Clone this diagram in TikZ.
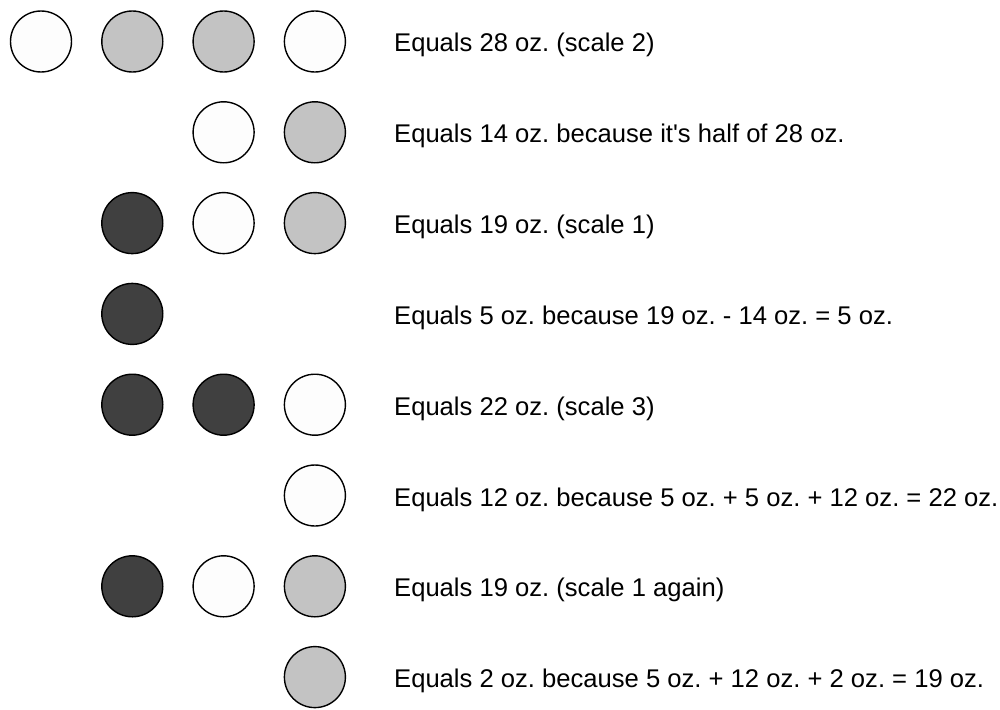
\documentclass[tikz,border=0pt]{standalone}
\usepackage{fontspec}
\setmainfont{Liberation Sans}
\usepackage{xcolor}
\usepackage{tikz}
\usetikzlibrary{positioning}
\frenchspacing

\definecolor{ballW}{HTML}{FDFDFD}
\definecolor{ballG}{HTML}{C3C3C3}
\definecolor{ballD}{HTML}{404040}

\begin{document}
\begin{tikzpicture}[
    x=1pt, y=1pt,
    ball/.style={circle, draw, line width=1.4pt, minimum size=61pt, inner sep=0pt},
    ballw/.style={ball, fill=ballW},
    ballg/.style={ball, fill=ballG},
    balld/.style={ball, fill=ballD},
    note/.style={anchor=base west, inner sep=0pt, font=\fontsize{25.6}{30}\selectfont}
]
\useasboundingbox (0,0) rectangle (1000,-709);

% Row 1: scale 2
\node[ballw] (a1) at (41,-41.5) {};
\node[ballg] (a2) at (132.3,-41.5) {};
\node[ballg] (a3) at (223.6,-41.5) {};
\node[ballw] (a4) at (314.9,-41.5) {};
\node[note] (ta) at (394,-52) {Equals 28 oz. (scale 2)};

% Row 2
\node[ballw] (b3) at (223.6,-132.3) {};
\node[ballg] (b4) at (314.9,-132.3) {};
\node[note] (tb) at (394,-142.8) {Equals 14 oz. because it\textquotesingle s half of 28 oz.};

% Row 3: scale 1
\node[balld] (c2) at (132.3,-223.1) {};
\node[ballw] (c3) at (223.6,-223.1) {};
\node[ballg] (c4) at (314.9,-223.1) {};
\node[note] (tc) at (394,-233.6) {Equals 19 oz. (scale 1)};

% Row 4
\node[balld] (d2) at (132.3,-313.9) {};
\node[note] (td) at (394,-324.4) {Equals 5 oz. because 19 oz. - 14 oz. = 5 oz.};

% Row 5: scale 3
\node[balld] (e2) at (132.3,-404.7) {};
\node[balld] (e3) at (223.6,-404.7) {};
\node[ballw] (e4) at (314.9,-404.7) {};
\node[note] (te) at (394,-415.2) {Equals 22 oz. (scale 3)};

% Row 6
\node[ballw] (f4) at (314.9,-495.5) {};
\node[note] (tf) at (394,-506) {Equals 12 oz. because 5 oz. + 5 oz. + 12 oz. = 22 oz.};

% Row 7: scale 1 again
\node[balld] (g2) at (132.3,-586.3) {};
\node[ballw] (g3) at (223.6,-586.3) {};
\node[ballg] (g4) at (314.9,-586.3) {};
\node[note] (tg) at (394,-596.8) {Equals 19 oz. (scale 1 again)};

% Row 8
\node[ballg] (h4) at (314.9,-677.1) {};
\node[note] (th) at (394,-687.6) {Equals 2 oz. because 5 oz. + 12 oz. + 2 oz. = 19 oz.};

\end{tikzpicture}
\end{document}
